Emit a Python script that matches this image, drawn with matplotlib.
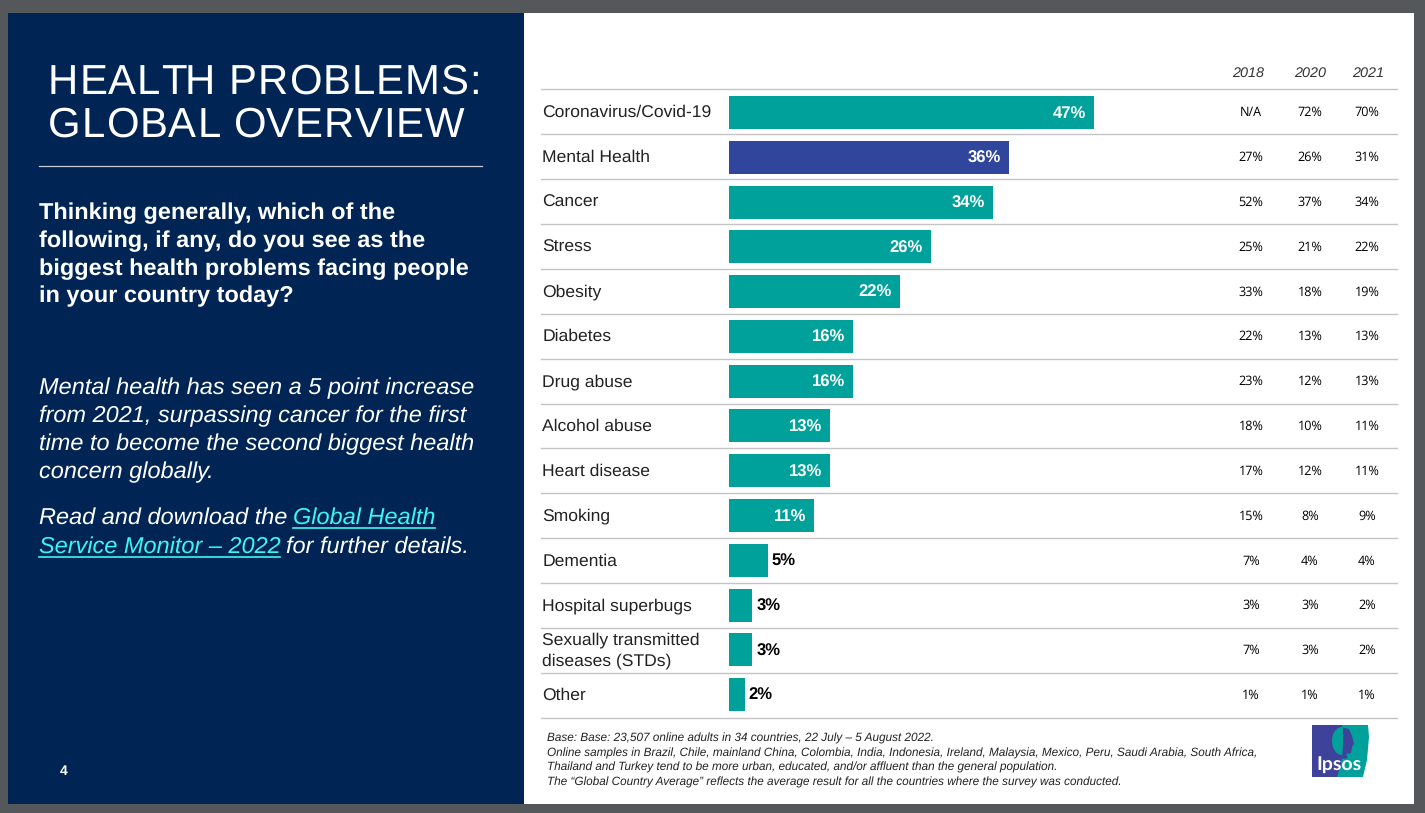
import matplotlib
matplotlib.use('Agg')
from matplotlib import pyplot as plt
from matplotlib.patches import Rectangle, Polygon, Ellipse

plt.rcParams['font.family'] = ['Liberation Sans', 'DejaVu Sans']
plt.rcParams['text.hinting'] = 'no_hinting'

categories = ['Coronavirus/Covid-19', 'Mental Health', 'Cancer', 'Stress', 'Obesity',
              'Diabetes', 'Drug abuse', 'Alcohol abuse', 'Heart disease', 'Smoking',
              'Dementia', 'Hospital superbugs', 'Sexually transmitted\ndiseases (STDs)', 'Other']
values_2022 = [47, 36, 34, 26, 22, 16, 16, 13, 13, 11, 5, 3, 3, 2]
values_2018 = ['N/A', '27%', '52%', '25%', '33%', '22%', '23%', '18%', '17%', '15%', '7%', '3%', '7%', '1%']
values_2020 = ['72%', '26%', '37%', '21%', '18%', '13%', '12%', '10%', '12%', '8%', '4%', '3%', '3%', '1%']
values_2021 = ['70%', '31%', '34%', '22%', '19%', '13%', '13%', '11%', '11%', '9%', '4%', '2%', '2%', '1%']
year_labels = ['2018', '2020', '2021']

NAVY = '#002554'
TEAL = '#00A19A'
BLUE = '#2F469C'
LOGO_BLUE = '#3E429A'
RULE = '#c4c4c4'
LINK = '#3DF5F5'
BODY = 16.9

fig = plt.figure(figsize=(14.25, 8.13), dpi=100, facecolor='#54585a')

# whole slide in pixel coords
bg = fig.add_axes([0, 0, 1, 1])
bg.set_xlim(0, 1425)
bg.set_ylim(813, 0)
bg.axis('off')
bg.add_patch(Rectangle((8, 13), 516, 791, color=NAVY, lw=0))
bg.add_patch(Rectangle((524, 13), 890, 791, color='white', lw=0))


def spaced_text(x, y, s, spacing, **kw):
    # matplotlib has no letter spacing, so step along the string
    renderer = fig.canvas.get_renderer()
    for i, ch in enumerate(s):
        probe = bg.text(0, 0, s[:i] + '|', **kw)
        bar = bg.text(0, 0, '|', **kw)
        offset = probe.get_window_extent(renderer).width - bar.get_window_extent(renderer).width
        probe.remove()
        bar.remove()
        bg.text(x + offset + i * spacing, y, ch, **kw)


# left panel
title_style = dict(color='white', fontsize=30.2, va='baseline')
spaced_text(48, 94, 'HEALTH PROBLEMS:', 0.97, **title_style)
spaced_text(48, 137, 'GLOBAL OVERVIEW', 0.97, **title_style)
bg.plot([39, 482], [166.5, 166.5], color='#c8ccd4', lw=0.9)

question = ['Thinking generally, which of the', 'following, if any, do you see as the',
            'biggest health problems facing people', 'in your country today?']
for i, line in enumerate(question):
    bg.text(39, 218.7 + i * 28, line, color='white', fontsize=BODY, fontweight='bold', va='baseline')

comment = ['Mental health has seen a 5 point increase', 'from 2021, surpassing cancer for the first',
           'time to become the second biggest health', 'concern globally.']
for i, line in enumerate(comment):
    bg.text(39, 394.7 + i * 28, line, color='white', fontsize=BODY, style='italic', va='baseline')

bg.text(39, 523.7, 'Read and download the ', color='white', fontsize=BODY, style='italic', va='baseline')
bg.text(293, 523.7, 'Global Health', color=LINK, fontsize=BODY, style='italic', va='baseline')
bg.text(39, 552.7, 'Service Monitor \u2013 2022', color=LINK, fontsize=BODY, style='italic', va='baseline')
bg.text(286, 552.7, 'for further details.', color='white', fontsize=BODY, style='italic', va='baseline')
bg.plot([293, 435], [527.5, 527.5], color=LINK, lw=1.2)
bg.plot([39, 280], [556.5, 556.5], color=LINK, lw=1.2)

bg.text(64, 771, '4', color='white', fontsize=10, fontweight='bold', ha='center', va='center')

# bars
ax = fig.add_axes([729 / 1425, 1 - 717 / 813, (1397 - 729) / 1425, (717 - 90.1) / 813])
ax.set_xlim(0, 668 / 7.77)
ax.set_ylim(len(categories) - 0.5, -0.5)
ax.axis('off')
ax.patch.set_alpha(0)

colors = [BLUE if c == 'Mental Health' else TEAL for c in categories]
ax.barh(range(len(categories)), values_2022, height=0.735, color=colors)
for i, v in enumerate(values_2022):
    if v > 5:
        ax.text(v - 1.05, i + 0.03, f'{v}%', color='white', fontsize=12, fontweight='bold',
                ha='right', va='center')
    else:
        ax.text(v + 0.5, i + 0.03, f'{v}%', color='black', fontsize=12, fontweight='bold',
                ha='left', va='center')

# row rules, labels and the year columns
for i in range(len(categories) + 1):
    bg.plot([541, 1397], [89 + i * 44.93, 89 + i * 44.93], color=RULE, lw=1)
for i, name in enumerate(categories):
    y = 111 + i * 44.85
    if '\n' in name:
        bg.text(542.5, y + 1.5, name, color='#222222', fontsize=12.6, va='center', linespacing=1.45)
    else:
        bg.text(542.5, y + 6, name, color='#222222', fontsize=12.6, va='baseline')
    for x, col in zip([1251, 1310, 1367], [values_2018, values_2020, values_2021]):
        bg.text(x, y + 5, col[i], color='black', fontsize=9.1, family='Open Sans', ha='center', va='baseline')
for x, year in zip([1248, 1310, 1368], year_labels):
    bg.text(x, 77, year, color='#333333', fontsize=10.4, style='italic', ha='center', va='baseline')

# footnote
notes = ['Base: Base: 23,507 online adults in 34 countries, 22 July \u2013 5 August 2022.',
         'Online samples in Brazil, Chile, mainland China, Colombia, India, Indonesia, Ireland, Malaysia, Mexico, Peru, Saudi Arabia, South Africa,',
         'Thailand and Turkey tend to be more urban, educated, and/or affluent than the general population.',
         'The \u201cGlobal Country Average\u201d reflects the average result for all the countries where the survey was conducted.']
for i, line in enumerate(notes):
    bg.text(547, 741.5 + i * 14.6, line, color='#222222', fontsize=8.46, style='italic', va='baseline')

# Ipsos logo
bg.add_patch(Polygon([(1312, 725), (1368, 725), (1369, 737), (1367, 760), (1363, 777), (1312, 777)],
                     color=TEAL, lw=0))
bg.add_patch(Polygon([(1312, 725), (1342, 725), (1342, 757), (1341, 765), (1337, 777), (1312, 777)],
                     color=LOGO_BLUE, lw=0))
bg.add_patch(Ellipse((1342, 741), 20, 28, color=TEAL, lw=0))
bg.add_patch(Polygon([(1343, 727.5), (1349, 729), (1352, 736), (1354, 744), (1352, 747), (1351, 753),
                      (1346, 754), (1348, 758), (1342, 759), (1343, 745)],
                     color=LOGO_BLUE, lw=0))
bg.text(1339.5, 769.5, 'Ipsos', color='white', fontsize=14, fontweight='bold', family='Lato',
        ha='center', va='baseline')

fig.savefig('out.png', dpi=100, facecolor=fig.get_facecolor())
